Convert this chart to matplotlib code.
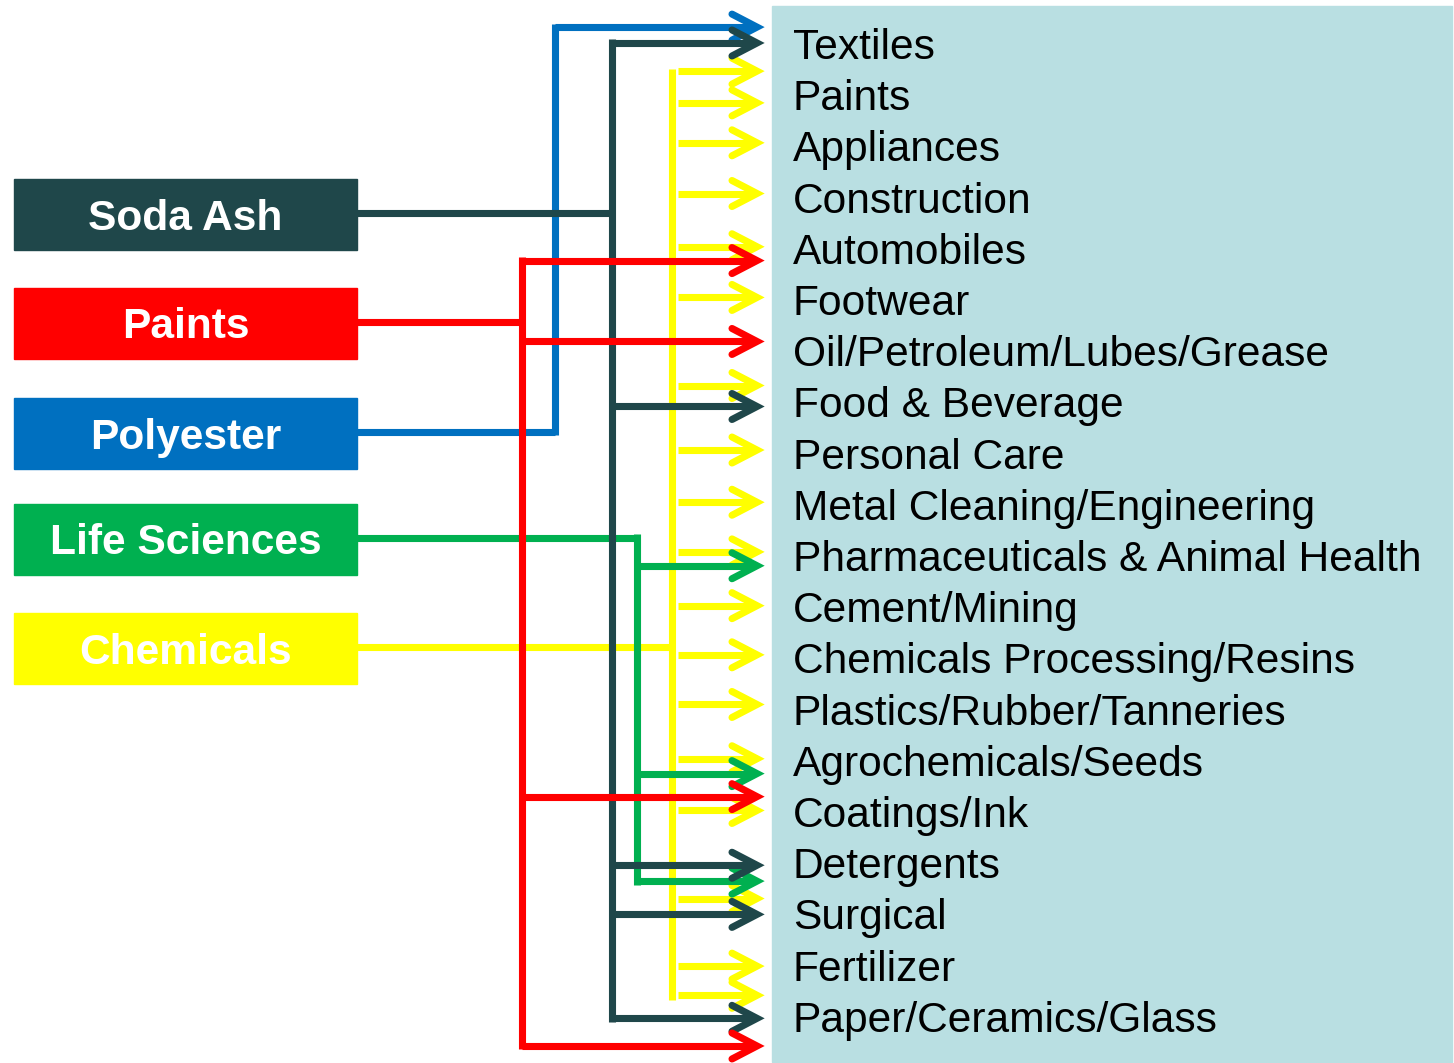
import matplotlib.pyplot as plt

# segments (left boxes) and their colours
segments = ['Soda Ash', 'Paints', 'Polyester', 'Life Sciences', 'Chemicals']
seg_colors = ['#1F474A', '#FF0000', '#0070C0', '#00B050', '#FFFF00']

# end-user industries (right panel)
industries = ['Textiles', 'Paints', 'Appliances', 'Construction', 'Automobiles',
              'Footwear', 'Oil/Petroleum/Lubes/Grease', 'Food & Beverage',
              'Personal Care', 'Metal Cleaning/Engineering',
              'Pharmaceuticals & Animal Health', 'Cement/Mining',
              'Chemicals Processing/Resins', 'Plastics/Rubber/Tanneries',
              'Agrochemicals/Seeds', 'Coatings/Ink', 'Detergents', 'Surgical',
              'Fertilizer', 'Paper/Ceramics/Glass']

# arrow targets per segment, in industry-row units (0 = Textiles)
links_soda = [-0.02, 7.08, 16.04, 17.0, 19.03]
links_paints = [4.23, 5.81, 14.70, 19.57]
links_poly = [-0.33]
links_life = [10.19, 14.25, 16.35]
links_chem = [0.53, 1.15, 1.93, 2.92, 3.96, 4.95, 6.67, 7.93, 8.95, 9.92,
              10.97, 11.93, 12.90, 13.96, 14.97, 16.69, 18.01, 18.58]

# ---- layout (pixels) ----
W, H = 1454, 1063
row0, row_h = 44, 51.2
box_x0, box_x1 = 14, 357
box_tops = [179, 288, 398, 504, 613]
box_h = 71
trunk_x = {'Soda Ash': 612, 'Paints': 522, 'Polyester': 555,
           'Life Sciences': 637, 'Chemicals': 672}
zorders = {'Polyester': 2, 'Chemicals': 3, 'Life Sciences': 4,
           'Soda Ash': 5, 'Paints': 6}
tip = 757
LW = 5.1

fig = plt.figure(figsize=(W / 100, H / 100), dpi=100)
ax = fig.add_axes([0, 0, 1, 1])
ax.set_xlim(0, W)
ax.set_ylim(H, 0)
ax.axis('off')

# right panel
ax.add_patch(plt.Rectangle((772, 6), 680, 1056, color='#B9DFE2', zorder=0))
for i, name in enumerate(industries):
    ax.text(793, row0 + i * row_h + 15, name, fontsize=30.6,
            family='Liberation Sans', va='baseline', ha='left', color='black')


def row_y(r):
    return row0 + r * row_h


def arrow(x0, y, color, z):
    ax.plot([x0, tip - 3], [y, y], color=color, lw=LW, solid_capstyle='butt', zorder=z)
    ax.plot([tip - 25, tip, tip - 25], [y - 13, y, y + 13], color=color, lw=LW,
            solid_joinstyle='miter', solid_capstyle='round', zorder=z)


all_links = {'Soda Ash': links_soda, 'Paints': links_paints, 'Polyester': links_poly,
             'Life Sciences': links_life, 'Chemicals': links_chem}

for k, (seg, col) in enumerate(zip(segments, seg_colors)):
    top = box_tops[k]
    cy = top + box_h / 2 - 2
    ax.add_patch(plt.Rectangle((box_x0, top), box_x1 - box_x0, box_h, color=col, zorder=7))
    ax.text((box_x0 + box_x1) / 2, top + box_h / 2 + 15, seg, fontsize=30.6,
            family='Liberation Sans', weight='bold', color='white',
            ha='center', va='baseline', zorder=8)

    tx = trunk_x[seg]
    z = zorders[seg]
    ys = [row_y(r) for r in all_links[seg]]
    # feeder from box to trunk
    ax.plot([box_x1, tx], [cy, cy], color=col, lw=LW, solid_capstyle='butt', zorder=z)
    if seg == 'Chemicals':
        ax.plot([tx, tx], [69, 1000], color=col, lw=LW, solid_capstyle='butt', zorder=z)
        for y in ys:
            arrow(tx + 6, y, col, z)
    else:
        lo = min(ys + [cy])
        hi = max(ys + [cy])
        ax.plot([tx, tx], [lo - 3.5, hi + 3.5], color=col, lw=LW, solid_capstyle='butt', zorder=z)
        for y in ys:
            arrow(tx, y, col, z)

fig.savefig('out.png', dpi=100)
